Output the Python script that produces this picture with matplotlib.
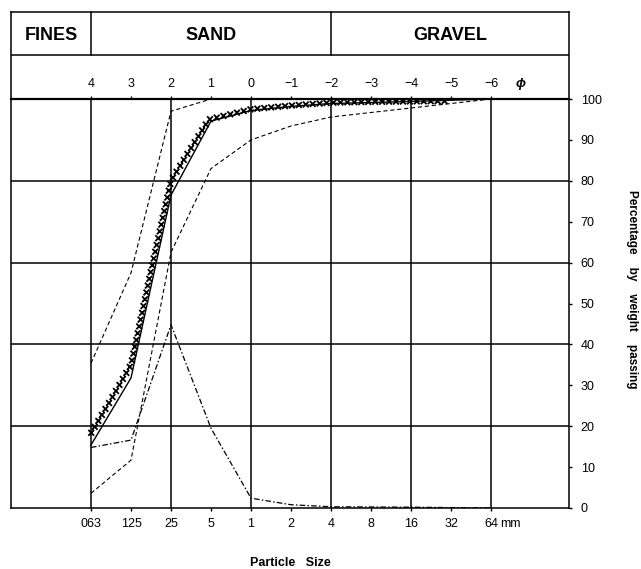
import numpy as np
import matplotlib
matplotlib.use('Agg')
import matplotlib.pyplot as plt
from matplotlib.path import Path
from matplotlib.patheffects import AbstractPathEffect
from matplotlib.transforms import IdentityTransform

plt.rcParams['font.family'] = ['Liberation Sans', 'DejaVu Sans']
plt.rcParams['lines.scale_dashes'] = False

# ---------------- data ----------------
phi_ticks = [4, 3, 2, 1, 0, -1, -2, -3, -4, -5, -6]
phi_labels = ['4', '3', '2', '1', '0', '−1', '−2', '−3', '−4', '−5', '−6']
mm_labels = ['063', '125', '25', '5', '1', '2', '4', '8', '16', '32', '64']
pct_ticks = [0, 10, 20, 30, 40, 50, 60, 70, 80, 90, 100]
grid_phi = [4, 2, 0, -2, -4, -6]
grid_pct = [20, 40, 60, 80]

zone_names = ['FINES', 'SAND', 'GRAVEL']
zone_bounds = [6, 4, -2, -7.95]

solid_phi = [4, 3, 2, 1, 0, -1, -2, -4, -6]
solid_pct = [15.4, 31.8, 76.5, 94.6, 97.2, 98.2, 98.9, 99.4, 100]

cross_phi = [4, 3.5, 3, 2.5, 2, 1.5, 1.05, 0, -1, -2, -3, -4, -4.85]
cross_pct = [18.3, 26.5, 35.0, 58.0, 80, 88, 95, 97.5, 98.4, 99.1, 99.3, 99.4, 99.5]

upper_phi = [4, 3, 2, 1]
upper_pct = [35.4, 57.5, 97, 100]

lower_phi = [4, 3, 2, 1, 0, -1, -2, -4, -6]
lower_pct = [3.6, 11.7, 62.5, 83, 90, 93.4, 95.6, 97.8, 100]

freq_phi = [4, 3, 2, 1, 0, -1, -2, -4, -6]
freq_pct = [14.8, 16.6, 44.8, 19.5, 2.4, 0.8, 0.3, 0.2, 0]


# ---------------- cross marks along a path ----------------
class CrossStroke(AbstractPathEffect):
    def __init__(self, spacing=4.0, size=1.6, offset=(0, 0), **kwargs):
        super().__init__(offset)
        self._spacing = spacing
        self._size = size
        self._gc = kwargs

    def draw_path(self, renderer, gc, tpath, affine, rgbFace=None):
        gc0 = renderer.new_gc()
        gc0.copy_properties(gc)
        gc0 = self._update_gc(gc0, self._gc)
        sp = renderer.points_to_pixels(self._spacing)
        h = renderer.points_to_pixels(self._size)
        tp = affine.transform_path(tpath)
        verts, codes = [], []
        for p in tp.to_polygons(closed_only=False):
            if len(p) < 2:
                continue
            ds = np.hypot(*np.diff(p, axis=0).T)
            s = np.concatenate([[0], np.cumsum(ds)])
            n = int(s[-1] // sp) + 1
            st = np.arange(n) * sp + (s[-1] - (n - 1) * sp) / 2
            xs = np.interp(st, s, p[:, 0])
            ys = np.interp(st, s, p[:, 1])
            for x, y in zip(xs, ys):
                verts += [(x - h, y - h), (x + h, y + h), (x - h, y + h), (x + h, y - h)]
                codes += [Path.MOVETO, Path.LINETO, Path.MOVETO, Path.LINETO]
        if verts:
            renderer.draw_path(gc0, Path(verts, codes), IdentityTransform())
        gc0.restore()


W, H = 641, 569
fig = plt.figure(figsize=(W / 100, H / 100), dpi=100)
L, R = 11 / W, 569 / W
B, T, HT = 1 - 508 / H, 1 - 99 / H, 1 - 12 / H
ax = fig.add_axes([L, B, R - L, T - B])
hx = fig.add_axes([L, T, R - L, HT - T])

XL = (zone_bounds[0], zone_bounds[-1])
lw_frame = 1.1
fs = 9

# ---------------- header ----------------
hx.set_xlim(*XL)
hx.set_ylim(0, 1)
hx.set_xticks([])
hx.set_yticks([])
hx.patch.set_alpha(0)
for k in ['top', 'left', 'right']:
    hx.spines[k].set_linewidth(lw_frame)
hx.spines['bottom'].set_visible(False)
yline = (99 - 55) / 87
hx.axhline(yline, color='black', lw=lw_frame)
for b in zone_bounds[1:-1]:
    hx.plot([b, b], [yline, 1], color='black', lw=lw_frame, clip_on=False)
for i, name in enumerate(zone_names):
    xc = (zone_bounds[i] + zone_bounds[i + 1]) / 2
    hx.text(xc, (99 - 39.5) / 87, name, ha='center', va='baseline',
            fontsize=13, fontweight='bold')

# ---------------- main axes ----------------
ax.set_xlim(*XL)
ax.set_ylim(0, 100)
for k in ['bottom', 'left', 'right']:
    ax.spines[k].set_linewidth(lw_frame)
ax.spines['top'].set_linewidth(1.6)

for p in grid_phi:
    ax.axvline(p, color='black', lw=lw_frame, zorder=1)
for v in grid_pct:
    ax.axhline(v, color='black', lw=lw_frame, zorder=1)

ax.set_xticks(phi_ticks)
ax.set_xticklabels(mm_labels)
ax.tick_params(axis='x', direction='out', length=2.5, width=1.0, pad=4.5,
               labelsize=fs)
ax.yaxis.tick_right()
ax.set_yticks(pct_ticks)
ax.tick_params(axis='y', direction='out', length=2.5, width=1.0, pad=6.0,
               labelsize=fs)

sec = ax.secondary_xaxis('top')
sec.set_xticks(phi_ticks)
sec.set_xticklabels(phi_labels)
sec.tick_params(direction='out', length=2.5, width=1.0, pad=4.0, labelsize=fs)
sec.spines['top'].set_visible(False)

ax.annotate('ϕ', xy=(-6.75, 1), xycoords=('data', 'axes fraction'),
            xytext=(0, 6.5), textcoords='offset points', ha='center', va='bottom',
            fontsize=9.5, style='italic', fontweight='bold')
ax.annotate('mm', xy=(-6, 0), xycoords=('data', 'axes fraction'),
            xytext=(6.5, -7), textcoords='offset points', ha='left', va='top',
            fontsize=fs)

# ---------------- curves ----------------
ax.plot(upper_phi, upper_pct, color='black', lw=0.8, dashes=(3, 2), zorder=3)
ax.plot(lower_phi, lower_pct, color='black', lw=0.8, dashes=(3, 2), zorder=3)
ax.plot(freq_phi, freq_pct, color='black', lw=0.9, dashes=(4, 1.6, 1.1, 1.6), zorder=3)
ax.plot(solid_phi, solid_pct, color='black', lw=1.0, zorder=4)
ax.plot(cross_phi, cross_pct, color='black', lw=0.9, zorder=5,
        path_effects=[CrossStroke(spacing=5.0, size=1.6, linewidth=1.3)])

# ---------------- labels ----------------
fig.text(290 / W, 1 - 563 / H, 'Particle   Size', ha='center', va='center',
         fontsize=9, fontweight='bold')
fig.text(632 / W, 1 - 289 / H, 'Percentage    by    weight    passing',
         ha='center', va='center', rotation=-90, fontsize=8.5, fontweight='bold')

fig.savefig('out.png', dpi=100)
